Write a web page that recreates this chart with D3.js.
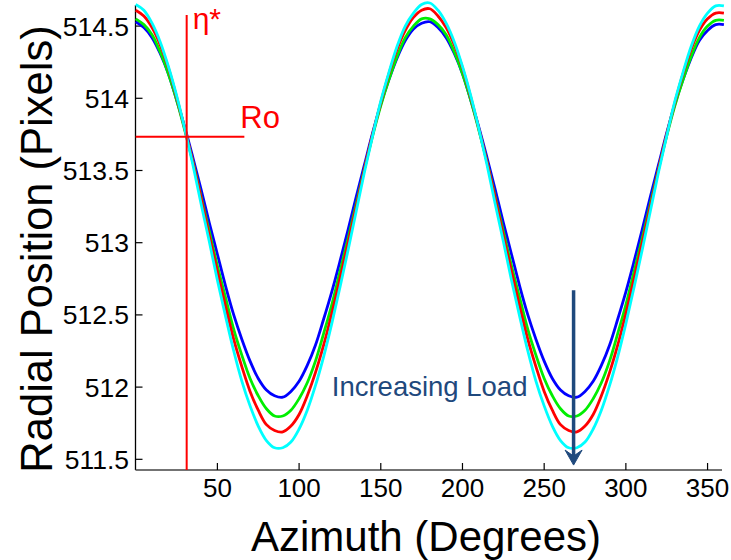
<!DOCTYPE html>
<html>
<head>
<meta charset="utf-8">
<script src="https://cdn.jsdelivr.net/npm/d3@7/dist/d3.min.js"></script>
<style>
  html, body { margin: 0; padding: 0; background: #fff; }
  svg { display: block; }
  text { font-family: "Liberation Sans", Arial, sans-serif; }
</style>
</head>
<body>
<svg id="chart" width="731" height="560"></svg>
<script>
// ---- data ----
const azimuth = d3.range(0, 361, 5); // 0,5,...,360 degrees (sample positions)

const blueLoad = [
  514.53,514.49,514.42,514.31,514.17,513.99,513.80,513.59,513.37,513.14,512.92,512.70,
  512.50,512.33,512.18,512.06,511.98,511.94,511.93,511.97,512.04,512.15,512.29,512.47,
  512.66,512.87,513.09,513.32,513.54,513.76,513.96,514.13,514.28,514.40,514.48,514.52,
  514.53,514.49,514.42,514.31,514.17,513.99,513.80,513.59,513.37,513.14,512.92,512.70,
  512.50,512.33,512.18,512.06,511.98,511.94,511.93,511.97,512.04,512.15,512.29,512.47,
  512.66,512.87,513.09,513.32,513.54,513.76,513.96,514.13,514.28,514.40,514.47,514.51,
  514.51
];
const greenLoad = [
  514.55,514.51,514.44,514.32,514.17,513.99,513.78,513.56,513.32,513.08,512.84,512.62,
  512.40,512.22,512.06,511.94,511.85,511.80,511.80,511.84,511.92,512.03,512.18,512.37,
  512.57,512.80,513.03,513.27,513.51,513.74,513.95,514.13,514.29,514.42,514.50,514.55,
  514.55,514.51,514.44,514.32,514.17,513.99,513.78,513.56,513.32,513.08,512.84,512.62,
  512.40,512.22,512.06,511.94,511.85,511.80,511.80,511.84,511.92,512.03,512.18,512.37,
  512.57,512.80,513.03,513.27,513.51,513.74,513.95,514.13,514.29,514.42,514.50,514.54,
  514.54
];
const redLoad = [
  514.61,514.57,514.49,514.37,514.21,514.01,513.79,513.56,513.31,513.05,512.80,512.56,
  512.33,512.14,511.97,511.84,511.74,511.70,511.69,511.73,511.81,511.94,512.10,512.29,
  512.51,512.75,513.00,513.25,513.51,513.75,513.97,514.17,514.34,514.47,514.56,514.61,
  514.62,514.57,514.49,514.37,514.21,514.01,513.79,513.56,513.31,513.05,512.80,512.56,
  512.33,512.14,511.97,511.84,511.74,511.70,511.69,511.73,511.81,511.94,512.10,512.29,
  512.51,512.75,513.00,513.25,513.51,513.75,513.97,514.17,514.34,514.47,514.55,514.59,
  514.59
];
const cyanLoad = [
  514.65,514.61,514.52,514.39,514.22,514.02,513.79,513.54,513.27,513.01,512.74,512.49,
  512.25,512.04,511.87,511.73,511.63,511.58,511.58,511.62,511.71,511.84,512.01,512.21,
  512.44,512.69,512.95,513.22,513.49,513.74,513.98,514.18,514.36,514.50,514.59,514.65,
  514.66,514.61,514.52,514.39,514.22,514.02,513.79,513.54,513.27,513.01,512.74,512.49,
  512.25,512.04,511.87,511.73,511.63,511.58,511.58,511.62,511.71,511.84,512.01,512.21,
  512.44,512.69,512.95,513.22,513.49,513.74,513.98,514.18,514.36,514.50,514.59,514.64,
  514.64
];
const seriesNames = ["blue", "green", "red", "cyan"];
const seriesColors = ["#0000ff", "#00ee00", "#ff0000", "#00ffff"];
const seriesValues = [blueLoad, greenLoad, redLoad, cyanLoad];

const xTicks = [50, 100, 150, 200, 250, 300, 350];
const yTicks = [511.5, 512, 512.5, 513, 513.5, 514, 514.5];

// annotations in data space
const etaStar = 31.2;        // azimuth of vertical marker
const roValue = 513.734;     // radius of horizontal marker
const roEnd = 66.5;          // azimuth where horizontal marker ends
const arrowAz = 268;         // load arrow azimuth
const arrowFrom = 512.67, arrowTo = 511.46;

// ---- layout ----
const svg = d3.select("#chart");
const x = d3.scaleLinear().domain([0, 360]).range([135.7, 723.9]);
const y = d3.scaleLinear().domain([511.426, 514.646]).range([470, 5]);
const axisLeftX = 135.5, axisBottomY = 470;

// axes lines
svg.append("line").attr("x1", axisLeftX).attr("x2", axisLeftX).attr("y1", y(514.646)).attr("y2", axisBottomY)
  .attr("stroke", "#000").attr("stroke-width", 1.3);
svg.append("line").attr("x1", axisLeftX).attr("x2", 722).attr("y1", axisBottomY).attr("y2", axisBottomY)
  .attr("stroke", "#444").attr("stroke-width", 1.3);

// y ticks (inward)
const yt = svg.append("g");
yt.selectAll("line").data(yTicks).join("line")
  .attr("x1", axisLeftX).attr("x2", axisLeftX + 7)
  .attr("y1", d => y(d)).attr("y2", d => y(d))
  .attr("stroke", "#000").attr("stroke-width", 1.2);
yt.selectAll("text").data(yTicks).join("text")
  .attr("x", 129).attr("y", d => y(d)).attr("dy", "0.36em")
  .attr("text-anchor", "end").attr("font-size", 26.5).attr("fill", "#000")
  .text(d => d3.format("")(d));

// x ticks (inward)
const xt = svg.append("g");
xt.selectAll("line").data(xTicks).join("line")
  .attr("x1", d => x(d)).attr("x2", d => x(d))
  .attr("y1", axisBottomY).attr("y2", axisBottomY - 7)
  .attr("stroke", "#000").attr("stroke-width", 1.2);
xt.selectAll("text").data(xTicks).join("text")
  .attr("x", d => x(d)).attr("y", 497)
  .attr("text-anchor", "middle").attr("font-size", 26).attr("fill", "#000")
  .text(d => d);

// axis titles
svg.append("text").attr("x", 426).attr("y", 551).attr("text-anchor", "middle")
  .attr("font-size", 42).attr("fill", "#000").text("Azimuth (Degrees)");
svg.append("text").attr("transform", "translate(52,249) rotate(-90)").attr("text-anchor", "middle")
  .attr("font-size", 43.5).attr("fill", "#000").text("Radial Position (Pixels)");

// curves
const line = d3.line().x((d, i) => x(azimuth[i])).y(d => y(d)).curve(d3.curveCatmullRom.alpha(0.5));
svg.append("g").selectAll("path").data(seriesValues).join("path")
  .attr("d", d => line(d))
  .attr("fill", "none")
  .attr("stroke", (d, i) => seriesColors[i])
  .attr("stroke-width", 2.8)
  .attr("stroke-linejoin", "round");

// red markers
svg.append("line").attr("x1", x(etaStar)).attr("x2", x(etaStar)).attr("y1", 15).attr("y2", axisBottomY)
  .attr("stroke", "#ff0000").attr("stroke-width", 2);
svg.append("line").attr("x1", x(0)).attr("x2", x(roEnd)).attr("y1", y(roValue)).attr("y2", y(roValue))
  .attr("stroke", "#ff0000").attr("stroke-width", 2);
svg.append("text").attr("x", x(etaStar) + 6).attr("y", 29).attr("font-size", 30).attr("fill", "#ff0000").text("η*");
svg.append("text").attr("x", x(64)).attr("y", 128).attr("font-size", 31).attr("fill", "#ff0000").text("Ro");

// increasing load arrow
const ac = "#1f497d";
const ax = x(arrowAz), tipY = y(arrowTo);
svg.append("line").attr("x1", ax).attr("x2", ax).attr("y1", y(arrowFrom)).attr("y2", tipY - 6)
  .attr("stroke", ac).attr("stroke-width", 3.5);
svg.append("path")
  .attr("d", `M${ax},${tipY} L${ax - 8.5},${tipY - 15} L${ax},${tipY - 9} L${ax + 8.5},${tipY - 15} Z`)
  .attr("fill", ac).attr("stroke", ac).attr("stroke-width", 1).attr("stroke-linejoin", "miter");
svg.append("text").attr("x", x(120)).attr("y", 396).attr("font-size", 27.5).attr("fill", ac).text("Increasing Load");
</script>
</body>
</html>
